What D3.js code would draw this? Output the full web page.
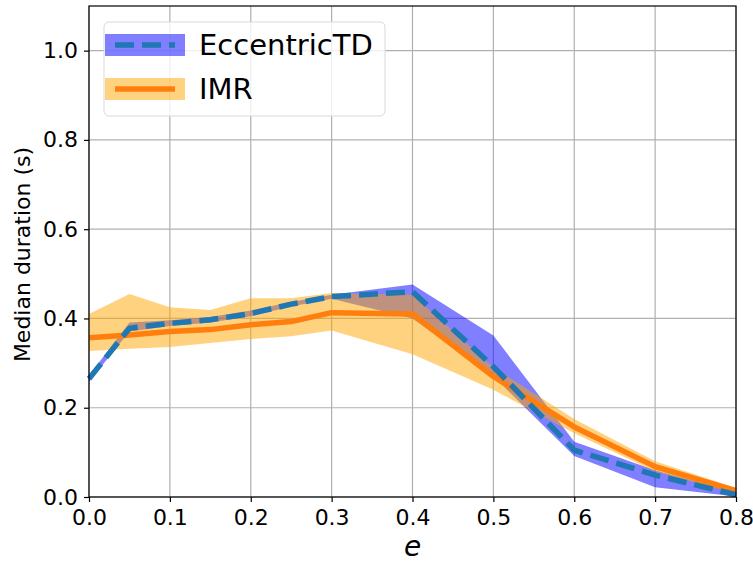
<!DOCTYPE html>
<html>
<head>
<meta charset="utf-8">
<script src="https://cdn.jsdelivr.net/npm/d3@7"></script>
<style>
  body { margin: 0; background: #fff; }
  text { font-family: "DejaVu Sans", sans-serif; fill: #000; }
</style>
</head>
<body>
<script>
// eccentricity values
var ecc = [0, 0.05, 0.1, 0.15, 0.2, 0.25, 0.3, 0.4, 0.5, 0.6, 0.7, 0.8];

// EccentricTD median and band
var tdMed = [0.265, 0.378, 0.389, 0.397, 0.411, 0.432, 0.449, 0.460, 0.292, 0.105, 0.049, 0.005];
var tdLo  = [0.258, 0.371, 0.383, 0.391, 0.405, 0.427, 0.444, 0.400, 0.270, 0.092, 0.022, 0.001];
var tdHi  = [0.272, 0.391, 0.396, 0.403, 0.418, 0.437, 0.453, 0.476, 0.362, 0.124, 0.060, 0.010];

// IMR median and band
var imrMed = [0.357, 0.363, 0.371, 0.375, 0.386, 0.393, 0.413, 0.410, 0.270, 0.157, 0.068, 0.014];
var imrLo  = [0.327, 0.332, 0.336, 0.345, 0.354, 0.360, 0.373, 0.320, 0.240, 0.143, 0.057, 0.008];
var imrHi  = [0.410, 0.455, 0.425, 0.419, 0.445, 0.445, 0.457, 0.453, 0.290, 0.175, 0.080, 0.020];

var xTicks = [0, 0.1, 0.2, 0.3, 0.4, 0.5, 0.6, 0.7, 0.8];
var yTicks = [0, 0.2, 0.4, 0.6, 0.8, 1.0];
var seriesNames = ["EccentricTD", "IMR"];

var width = 753, height = 563;
var margin = {top: 6, right: 17, bottom: 66, left: 89};
var w = width - margin.left - margin.right,
    h = height - margin.top - margin.bottom;

var svg = d3.select("body").append("svg")
    .attr("width", width)
    .attr("height", height);

var g = svg.append("g")
    .attr("transform", "translate(" + margin.left + "," + margin.top + ")");

var x = d3.scaleLinear().domain([0, 0.8]).range([0, w]);
var y = d3.scaleLinear().domain([0, 1.1]).range([h, 0]);

//grid lines
g.selectAll(".gx").data(xTicks).enter().append("line")
    .attr("x1", d => x(d)).attr("x2", d => x(d))
    .attr("y1", 0).attr("y2", h)
    .attr("stroke", "#b0b0b0").attr("stroke-width", 1.2);
g.selectAll(".gy").data(yTicks).enter().append("line")
    .attr("x1", 0).attr("x2", w)
    .attr("y1", d => y(d)).attr("y2", d => y(d))
    .attr("stroke", "#b0b0b0").attr("stroke-width", 1.2);

var idx = d3.range(ecc.length);

function band(lo, hi){
    return d3.area()
        .x(i => x(ecc[i]))
        .y0(i => y(lo[i]))
        .y1(i => y(hi[i]))(idx);
}
function med(v){
    return d3.line()
        .x(i => x(ecc[i]))
        .y(i => y(v[i]))(idx);
}

//bands first, then the lines on top
g.append("path").attr("d", band(tdLo, tdHi))
    .attr("fill", "blue").attr("fill-opacity", 0.5);
g.append("path").attr("d", band(imrLo, imrHi))
    .attr("fill", "orange").attr("fill-opacity", 0.5);

g.append("path").attr("d", med(imrMed))
    .attr("fill", "none").attr("stroke", "#ff7f0e")
    .attr("stroke-width", 5.5).attr("stroke-linejoin", "round");
g.append("path").attr("d", med(tdMed))
    .attr("fill", "none").attr("stroke", "#1f77b4")
    .attr("stroke-width", 5.5).attr("stroke-dasharray", "19,8");

//axes
var xAxis = g.append("g")
    .attr("transform", "translate(0," + h + ")")
    .call(d3.axisBottom(x).tickValues(xTicks).tickFormat(d3.format(".1f")).tickSizeOuter(0).tickSize(5).tickPadding(7));
var yAxis = g.append("g")
    .call(d3.axisLeft(y).tickValues(yTicks).tickFormat(d3.format(".1f")).tickSizeOuter(0).tickSize(5).tickPadding(6));

[xAxis, yAxis].forEach(function(a){
    a.select(".domain").remove();
    a.selectAll("line").attr("stroke", "#000").attr("stroke-width", 1.2);
    a.selectAll("text").attr("font-size", 22).attr("font-family", "DejaVu Sans");
});

//frame
g.append("rect")
    .attr("width", w).attr("height", h)
    .attr("fill", "none").attr("stroke", "#000").attr("stroke-width", 1.2);

//labels
svg.append("text")
    .attr("x", margin.left + w / 2).attr("y", 556)
    .attr("text-anchor", "middle")
    .attr("font-size", 28).attr("font-style", "italic")
    .text("e");
svg.append("text")
    .attr("transform", "translate(30," + (margin.top + h / 2 + 3) + ") rotate(-90)")
    .attr("text-anchor", "middle")
    .attr("font-size", 22)
    .text("Median duration (s)");

//legend
var leg = svg.append("g").attr("transform", "translate(104,22)");
leg.append("rect")
    .attr("width", 281).attr("height", 94).attr("rx", 5)
    .attr("fill", "#fff").attr("fill-opacity", 0.8)
    .attr("stroke", "#d9d9d9").attr("stroke-width", 1);

var legItems = [
    {name: seriesNames[0], fill: "blue", stroke: "#1f77b4", dash: "19,8"},
    {name: seriesNames[1], fill: "orange", stroke: "#ff7f0e", dash: null}
];
var li = leg.selectAll(".li").data(legItems).enter().append("g")
    .attr("transform", (d, i) => "translate(0," + (i * 44) + ")");
li.append("rect")
    .attr("x", 1).attr("y", 12).attr("width", 80).attr("height", 22)
    .attr("fill", d => d.fill).attr("fill-opacity", 0.5);
li.append("line")
    .attr("x1", 11).attr("x2", 71).attr("y1", 23).attr("y2", 23)
    .attr("stroke", d => d.stroke).attr("stroke-width", 5.5)
    .attr("stroke-dasharray", d => d.dash);
li.append("text")
    .attr("x", 95).attr("y", 33)
    .attr("font-size", 29)
    .text(d => d.name);
</script>
</body>
</html>
